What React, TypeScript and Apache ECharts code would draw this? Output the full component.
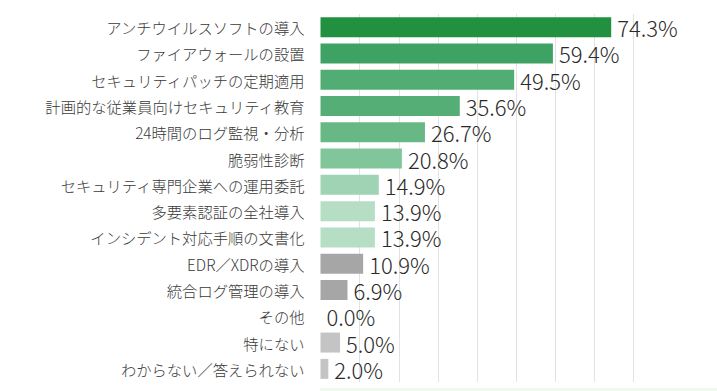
import React, { useEffect, useRef } from "react";
import * as echarts from "echarts";

const categories = [
  "アンチウイルスソフトの導入",
  "ファイアウォールの設置",
  "セキュリティパッチの定期適用",
  "計画的な従業員向けセキュリティ教育",
  "24時間のログ監視・分析",
  "脆弱性診断",
  "セキュリティ専門企業への運用委託",
  "多要素認証の全社導入",
  "インシデント対応手順の文書化",
  "EDR／XDRの導入",
  "統合ログ管理の導入",
  "その他",
  "特にない",
  "わからない／答えられない",
];

const values = [74.3, 59.4, 49.5, 35.6, 26.7, 20.8, 14.9, 13.9, 13.9, 10.9, 6.9, 0.0, 5.0, 2.0];

const barColors = [
  "#21903f",
  "#3ea265",
  "#52ad74",
  "#56ae77",
  "#68b886",
  "#81c59b",
  "#9fd3b3",
  "#b6dec5",
  "#b6dec5",
  "#a6a6a6",
  "#a6a6a6",
  "#a6a6a6",
  "#c4c4c4",
  "#c4c4c4",
];

export default function App() {
  const ref = useRef<HTMLDivElement>(null);
  useEffect(() => {
    if (!ref.current) return;
    const chart = echarts.init(ref.current, undefined, { renderer: "svg" });
    const jp = "'Noto Sans CJK JP', 'Noto Sans', sans-serif";
    chart.setOption({
      animation: false,
      backgroundColor: "#ffffff",
      grid: { left: 320.5, right: 83.5, top: 14, height: 368 },
      xAxis: {
        type: "value",
        min: 0,
        max: 80,
        interval: 10,
        axisLabel: { show: false },
        axisLine: { show: false },
        axisTick: { show: false },
        splitLine: { show: true, showMinLine: false, lineStyle: { color: "#e2e2e2", width: 1 } },
      },
      yAxis: {
        type: "category",
        inverse: true,
        data: categories,
        axisLine: { show: false },
        axisTick: { show: false },
        axisLabel: {
          color: "#3a3a3a",
          fontSize: 15.3,
          fontWeight: 300,
          lineHeight: 18,
          fontFamily: jp,
          margin: 16,
        },
      },
      graphic: [
        {
          type: "rect",
          shape: { x: 320, y: 388, width: 397, height: 3 },
          style: { fill: "#f1f8ef" },
          silent: true,
        },
      ],
      series: [
        {
          type: "bar",
          data: values.map((v, i) => ({ value: v, itemStyle: { color: barColors[i] } })),
          barCategoryGap: "24%",
          label: {
            show: true,
            position: "right",
            distance: 6,
            color: "#2a2a2a",
            fontSize: 22,
            fontWeight: 300,
            lineHeight: 22,
            fontFamily: jp,
            formatter: (p: any) => Number(p.value).toFixed(1) + "%",
          },
        },
      ],
    });
    return () => chart.dispose();
  }, []);
  return <div ref={ref} style={{ width: 717, height: 391, position: "fixed", left: 0, top: 0 }} />;
}
